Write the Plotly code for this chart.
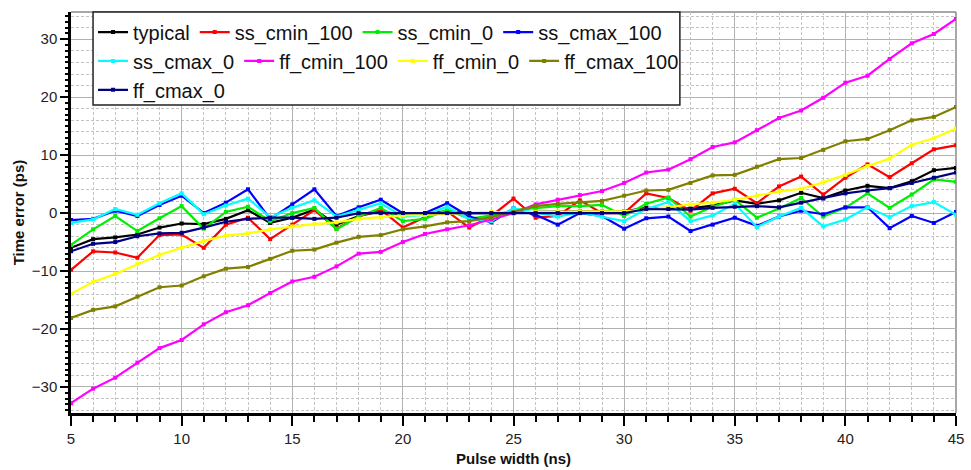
import plotly.graph_objects as go

pulse_width = list(range(5, 46))

typical = [-6.0, -4.5, -4.2, -3.7, -2.5, -1.8, -1.9, -1.0, 0.5, -1.7, -0.8, 0.6, -2.0, -0.5, 0.3, -0.3, 0.0, 0.3, 0.0, 0.0,
           0.0, 0.2, 0.2, 0.3, 0.3, 0.3, 0.9, 0.9, 0.8, 1.3, 2.2, 1.6, 2.2, 3.5, 2.6, 3.9, 4.7, 4.3, 5.5, 7.4, 7.8]
ss_cmin_100 = [-9.8, -6.6, -6.8, -7.7, -3.8, -3.7, -6.0, -2.0, -0.8, -4.5, -2.0, 0.5, -2.7, -0.6, 0.6, -2.5, -0.7, 0.3, -2.5, -0.5,
               2.5, -0.8, -0.5, 2.2, 0.0, 0.0, 3.4, 2.6, 0.4, 3.4, 4.2, 1.7, 4.6, 6.3, 3.2, 6.1, 8.4, 6.2, 8.6, 11.0, 11.7]
ss_cmin_0 = [-5.5, -2.8, -0.5, -3.1, -0.9, 1.2, -2.7, 0.2, 1.1, -1.4, 0.0, 0.9, -2.8, -0.6, 0.9, -1.4, -1.0, 0.6, -1.0, -0.4,
             0.5, 0.8, 1.2, 1.2, 1.4, -0.5, 1.6, 2.7, -0.6, 1.1, 2.3, -0.8, 0.8, 2.6, -0.6, 0.9, 3.4, 0.9, 3.2, 5.8, 5.4]
ss_cmax_100 = [-1.2, -1.0, 0.4, -0.5, 1.4, 3.0, 0.0, 1.8, 4.1, -1.0, 1.5, 4.1, -0.5, 1.0, 2.3, 0.0, 0.0, 1.7, -0.6, -1.6,
               0.8, -0.3, -2.0, 0.0, -0.5, -2.7, -0.9, -0.6, -3.1, -2.0, -0.8, -2.2, -0.6, 0.4, -0.2, 1.0, 1.0, -2.6, -0.5, -1.7, 0.2]
ss_cmax_0 = [-1.7, -1.1, 0.7, -0.3, 1.7, 3.4, -0.2, 1.3, 2.5, -0.7, 0.9, 2.2, -0.6, 0.6, 1.7, -0.6, -0.3, 1.1, -1.1, -1.4,
             0.8, 0.1, -0.6, 0.1, -0.6, -1.4, 0.7, 1.9, -1.4, -0.4, 1.6, -2.4, -0.6, 0.9, -2.3, -1.1, 1.0, -0.7, 1.2, 1.9, -0.3]
ff_cmin_100 = [-32.8, -30.3, -28.4, -25.8, -23.3, -21.9, -19.2, -17.1, -15.9, -13.8, -11.8, -11.0, -9.2, -7.0, -6.7, -5.0,
               -3.6, -2.8, -2.1, -1.1, 0.0, 1.5, 2.3, 3.1, 3.8, 5.2, 7.0, 7.5, 9.3, 11.4, 12.2, 14.3, 16.4, 17.7, 19.9, 22.5,
               23.7, 26.6, 29.3, 30.9, 33.5]
ff_cmin_0 = [-13.9, -11.9, -10.5, -8.8, -7.2, -6.0, -4.8, -3.9, -3.5, -2.8, -2.3, -1.9, -1.6, -1.0, -0.7, -0.4, -0.3, -0.1,
             0.0, 0.2, 0.0, 0.2, 0.2, 0.3, 0.3, 0.3, 0.6, 1.0, 1.5, 1.8, 2.3, 3.0, 3.7, 4.2, 5.3, 6.6, 8.1, 9.4, 11.8, 12.9, 14.6]
ff_cmax_100 = [-18.1, -16.7, -16.1, -14.4, -12.8, -12.5, -10.9, -9.6, -9.3, -7.9, -6.5, -6.3, -5.1, -4.1, -3.8, -2.8, -2.3,
               -1.6, -1.4, -0.7, 0.2, 1.2, 1.6, 1.9, 2.1, 3.0, 3.9, 4.0, 5.2, 6.5, 6.6, 8.0, 9.3, 9.5, 10.9, 12.4, 12.8, 14.3,
               16.0, 16.6, 18.3]
ff_cmax_0 = [-6.6, -5.3, -5.0, -4.0, -3.5, -3.4, -2.5, -1.5, -1.0, -0.8, -0.8, -1.0, -0.8, 0.0, 0.0, 0.0, 0.0, 0.0, 0.0, 0.0,
             0.0, 0.0, 0.0, 0.0, 0.0, 0.0, 0.7, 0.7, 0.6, 0.9, 1.1, 1.2, 1.0, 1.8, 2.5, 3.4, 3.9, 4.3, 5.2, 6.1, 7.0]

series_names = ["typical", "ss_cmin_100", "ss_cmin_0", "ss_cmax_100", "ss_cmax_0",
                "ff_cmin_100", "ff_cmin_0", "ff_cmax_100", "ff_cmax_0"]
series_values = [typical, ss_cmin_100, ss_cmin_0, ss_cmax_100, ss_cmax_0,
                 ff_cmin_100, ff_cmin_0, ff_cmax_100, ff_cmax_0]
series_colors = ["#000000", "#ff0000", "#00ee00", "#0000ff", "#00ffff",
                 "#ff00ff", "#ffff00", "#808000", "#000080"]
legend_rows = ["legend", "legend", "legend", "legend", "legend2",
               "legend2", "legend2", "legend2", "legend3"]

fig = go.Figure()
for name, vals, col, lg in zip(series_names, series_values, series_colors, legend_rows):
    fig.add_trace(go.Scatter(
        x=pulse_width, y=vals, name=name, mode="lines+markers",
        line=dict(color=col, width=2.2), marker=dict(color=col, size=4, symbol="square"),
        legend=lg,
    ))

# overlay axis for 1-unit minor ticks on y
fig.add_trace(go.Scatter(x=[], y=[], yaxis="y2", showlegend=False, hoverinfo="skip"))

YR = [-34.5, 34.7]
font_family = "Liberation Sans, Arial, sans-serif"
leg_common = dict(orientation="h", xanchor="left", yanchor="middle", x=0.0249,
                  bgcolor="rgba(0,0,0,0)", borderwidth=0,
                  font=dict(family=font_family, size=20, color="#111111"),
                  itemwidth=30, tracegroupgap=0)

grid_major = "#b2b2b2"
grid_minor = "#c4c4c4"

fig.update_layout(
    width=971, height=470,
    margin=dict(l=71, r=15, t=12, b=57, autoexpand=False),
    paper_bgcolor="white", plot_bgcolor="white",
    font=dict(family=font_family, color="#222222"),
    legend=dict(**leg_common, y=0.95),
    legend2=dict(**leg_common, y=0.878),
    legend3=dict(**leg_common, y=0.806),
    xaxis=dict(
        range=[5, 45], dtick=5, tick0=5, automargin=False,
        showline=True, linecolor="black", linewidth=2.5,
        ticks="outside", ticklen=10, tickwidth=2, tickcolor="black",
        tickfont=dict(size=15, color="#222222"),
        showgrid=True, gridcolor=grid_major, gridwidth=1.3,
        zeroline=False,
        minor=dict(dtick=1, ticks="outside", ticklen=6, tickwidth=2, tickcolor="black",
                   showgrid=True, gridcolor=grid_minor, griddash="3px,2px", gridwidth=1),
        title=dict(text="<b>Pulse width (ns)</b>", font=dict(size=15, color="#111111"), standoff=8),
    ),
    yaxis=dict(
        range=YR, dtick=10, tick0=0, automargin=False,
        showline=True, linecolor="black", linewidth=2.5,
        ticks="outside", ticklen=8, tickwidth=2, tickcolor="black",
        tickfont=dict(size=15, color="#222222"),
        showgrid=True, gridcolor=grid_major, gridwidth=1.3,
        zeroline=False,
        minor=dict(dtick=2, ticks="", showgrid=True, gridcolor=grid_minor, griddash="3px,2px", gridwidth=1),
        title=dict(text="<b>Time error (ps)</b>", font=dict(size=15, color="#111111"), standoff=4),
    ),
    yaxis2=dict(
        overlaying="y", side="left", range=YR, dtick=1, tick0=0, automargin=False,
        ticks="outside", ticklen=5, tickwidth=2, tickcolor="black",
        showticklabels=False, showgrid=False, zeroline=False, showline=False,
    ),
    shapes=[
        dict(type="line", xref="paper", yref="paper", x0=0, x1=1, y0=1, y1=1,
             line=dict(color="#8a8a8a", width=1.5), layer="below"),
        dict(type="line", xref="paper", yref="paper", x0=1, x1=1, y0=0, y1=1,
             line=dict(color="#8a8a8a", width=1.5), layer="below"),
        dict(type="rect", xref="paper", yref="paper", x0=0.0249, x1=0.688, y0=0.768, y1=1.0,
             fillcolor="white", line=dict(color="#222222", width=1.5), layer="above"),
    ],
)

fig.write_html("out.html")
